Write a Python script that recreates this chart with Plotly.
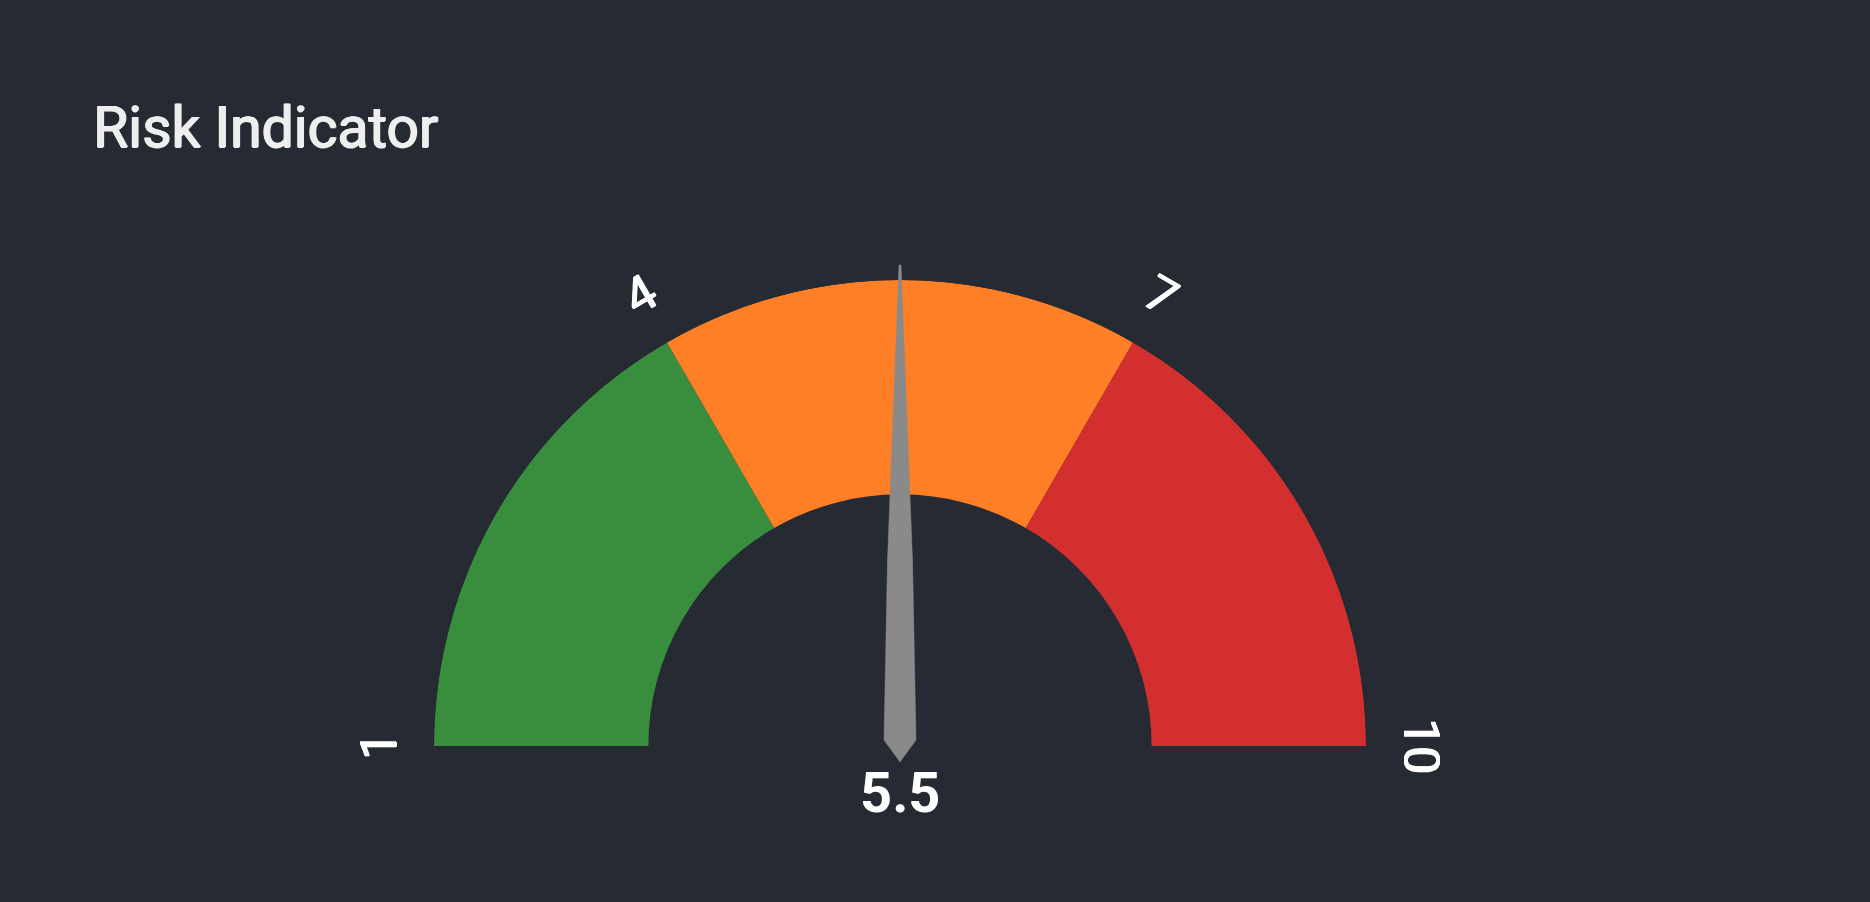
import math
import plotly.graph_objects as go

# ---------------- data ----------------
title_text = "Risk Indicator"
gauge_min = 1
gauge_max = 10
band_starts = [1, 4, 7]
band_ends = [4, 7, 10]
band_colors = ["#388E3C", "#FF7F27", "#D32F2F"]
tick_values = [1, 4, 7, 10]
tick_labels = ["1", "4", "7", "10"]
needle_value = 5.5
value_label = "5.5"

# ---------------- geometry / style ----------------
W, H = 1870, 902
CX, CY = 900, 746          # gauge centre (page px)
R = 466                    # outer radius (px)
INNER = 0.54               # inner radius fraction
LABEL_R = 521              # tick label radius (px)
BG = "#262A33"
FONT = "Roboto"
MEDIUM = "1px 0 0 {c}, -0.6px 0 0 {c}, 0 0.5px 0 {c}"


def to_theta(v):
    return (v - gauge_min) / (gauge_max - gauge_min) * 180.0


fig = go.Figure()

# bands (polar bars)
fig.add_trace(go.Barpolar(
    theta=[to_theta((a + b) / 2) for a, b in zip(band_starts, band_ends)],
    width=[to_theta(b) - to_theta(a) for a, b in zip(band_starts, band_ends)],
    base=[INNER] * len(band_starts),
    r=[1 - INNER] * len(band_starts),
    marker=dict(color=band_colors, line=dict(width=0)),
    hoverinfo="skip",
    showlegend=False,
))

# needle: path on a page-pixel cartesian overlay, drawn above everything
needle_shape = [(481, 1.0), (186, 12.5), (6, 16.0), (-16, 0.0),
                (6, -16.0), (186, -12.5), (481, -1.0)]
ang = math.radians(180 - to_theta(needle_value))
ux, uy = math.cos(ang), -math.sin(ang)        # along needle (page px, y down)
px_, py_ = -uy, ux                            # perpendicular
pts = [(CX + a * ux + h * px_, CY + a * uy + h * py_) for a, h in needle_shape]
path = "M " + " L ".join(f"{x:.2f},{y:.2f}" for x, y in pts) + " Z"

annotations = []
# tick labels, rotated with top pointing outward
for v, lab in zip(tick_values, tick_labels):
    th = 180 - to_theta(v)  # math angle
    x = CX + LABEL_R * math.cos(math.radians(th))
    y = CY - LABEL_R * math.sin(math.radians(th))
    annotations.append(dict(
        x=x / W, y=1 - y / H, xref="paper", yref="paper",
        text=lab, showarrow=False, xanchor="center", yanchor="middle",
        textangle=90 - th,
        font=dict(family=FONT, size=50, color="#FFFFFF",
                  shadow=MEDIUM.format(c="#FFFFFF")),
    ))

# value label
annotations.append(dict(
    x=CX / W, y=1 - 793 / H, xref="paper", yref="paper",
    text=value_label, showarrow=False, xanchor="center", yanchor="middle",
    font=dict(family=FONT, size=56, color="#FFFFFF", weight="bold"),
))

# title
annotations.append(dict(
    x=91 / W, y=1 - 128 / H, xref="paper", yref="paper",
    text=title_text, showarrow=False, xanchor="left", yanchor="middle",
    font=dict(family=FONT, size=57, color="#EEEEEE",
              shadow=MEDIUM.format(c="#EEEEEE")),
))

fig.update_layout(
    width=W, height=H,
    margin=dict(l=0, r=0, t=0, b=0),
    paper_bgcolor=BG, plot_bgcolor="rgba(0,0,0,0)",
    showlegend=False,
    xaxis=dict(range=[0, W], visible=False, fixedrange=True, domain=[0, 1]),
    yaxis=dict(range=[H, 0], visible=False, fixedrange=True, domain=[0, 1]),
    polar=dict(
        domain=dict(x=[(CX - R) / W, (CX + R) / W],
                    y=[1 - CY / H, 1 - (CY - R) / H]),
        sector=[0, 180],
        bgcolor="rgba(0,0,0,0)",
        hole=0,
        radialaxis=dict(visible=False, range=[0, 1]),
        angularaxis=dict(visible=False, rotation=180, direction="clockwise"),
    ),
    shapes=[dict(type="path", path=path, xref="x", yref="y", layer="above",
                 fillcolor="#8A8A8A", line=dict(color="#8A8A8A", width=0.5))],
    annotations=annotations,
)

fig.write_html(
    "out.html",
    config={"displayModeBar": False},
    post_script="document.body.style.margin='0px';document.body.style.background='#262A33';document.body.style.overflow='hidden';",
)
